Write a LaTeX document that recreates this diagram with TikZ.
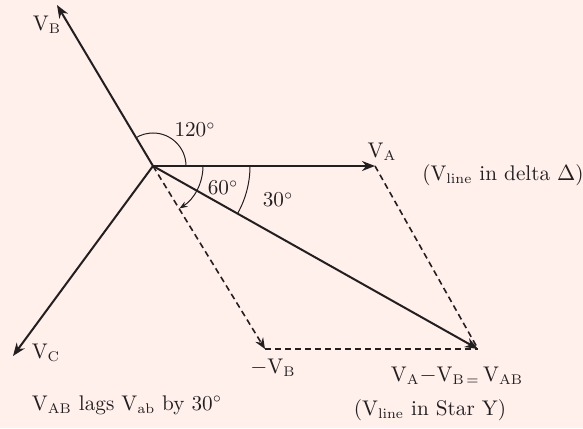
\documentclass[tikz,border=0pt]{standalone}
\usetikzlibrary{arrows.meta}
\definecolor{bgpink}{RGB}{255,240,236}
\definecolor{ink}{RGB}{35,31,32}
\tikzset{
  phasor/.style={draw=ink, line width=1pt, -{Stealth[length=6.5pt,width=5pt]}},
  helper/.style={draw=ink, line width=0.8pt, dash pattern=on 3pt off 2pt},
  anglearc/.style={draw=ink, line width=0.5pt},
  lbl/.style={text=ink, inner sep=0pt, font=\fontsize{10.6}{12}\selectfont}
}
\begin{document}
\begin{tikzpicture}[x=0.5pt, y=0.5pt]
  \fill[bgpink] (0,0) rectangle (583,428);
  \useasboundingbox (0,0) rectangle (583,428);
  % phasor ends
  \coordinate (o) at (153,262);
  \coordinate (a) at (375,262);
  \coordinate (b) at (57,423);
  \coordinate (c) at (13,72);
  \coordinate (nb) at (265,79);
  \coordinate (ab) at (478,79);
  % construction lines
  \draw[helper, -{Stealth[length=5.5pt,width=4.5pt]}] (o) -- (nb);
  \draw[helper] (nb) -- (ab);
  \draw[helper] (a) -- (ab);
  % phasors
  \draw[phasor] (o) -- (a);
  \draw[phasor] (o) -- (b);
  \draw[phasor] (o) -- (c);
  \draw[phasor] (o) -- (ab);
  % angles
  \draw[anglearc] ([shift={(0:16.5pt)}]o) arc (0:121:16.5pt);
  \draw[anglearc, -{Stealth[length=4pt,width=3pt]}] ([shift={(0:25pt)}]o) arc (0:-58:25pt);
  \draw[anglearc] ([shift={(0:48.5pt)}]o) arc (0:-29:48.5pt);
  % labels
  \node[lbl] (la) at (382,276) {V$_{\mathrm{A}}$};
  \node[lbl] (lb) at (47,403) {V$_{\mathrm{B}}$};
  \node[lbl] (lc) at (46,75) {V$_{\mathrm{C}}$};
  \node[lbl] (lnb) at (273,60) {$-$V$_{\mathrm{B}}$};
  \node[lbl] (lab) at (457,52) {V$_{\mathrm{A}}$$-$V$_{\mathrm{B}\,=}$\,V$_{\mathrm{AB}}$};
  \node[lbl] (l120) at (195,298) {120$^\circ$};
  \node[lbl] (l60) at (223,240) {60$^\circ$};
  \node[lbl] (l30) at (278,228) {30$^\circ$};
  \node[lbl] (ldelta) at (503,253) {(V$_{\mathrm{line}}$ in delta $\Delta$)};
  \node[lbl] (lstar) at (430,18) {(V$_{\mathrm{line}}$ in Star Y)};
  \node[lbl] (llag) at (127,23) {V$_{\mathrm{AB}}$ lags V$_{\mathrm{ab}}$ by 30$^\circ$};
\end{tikzpicture}
\end{document}
